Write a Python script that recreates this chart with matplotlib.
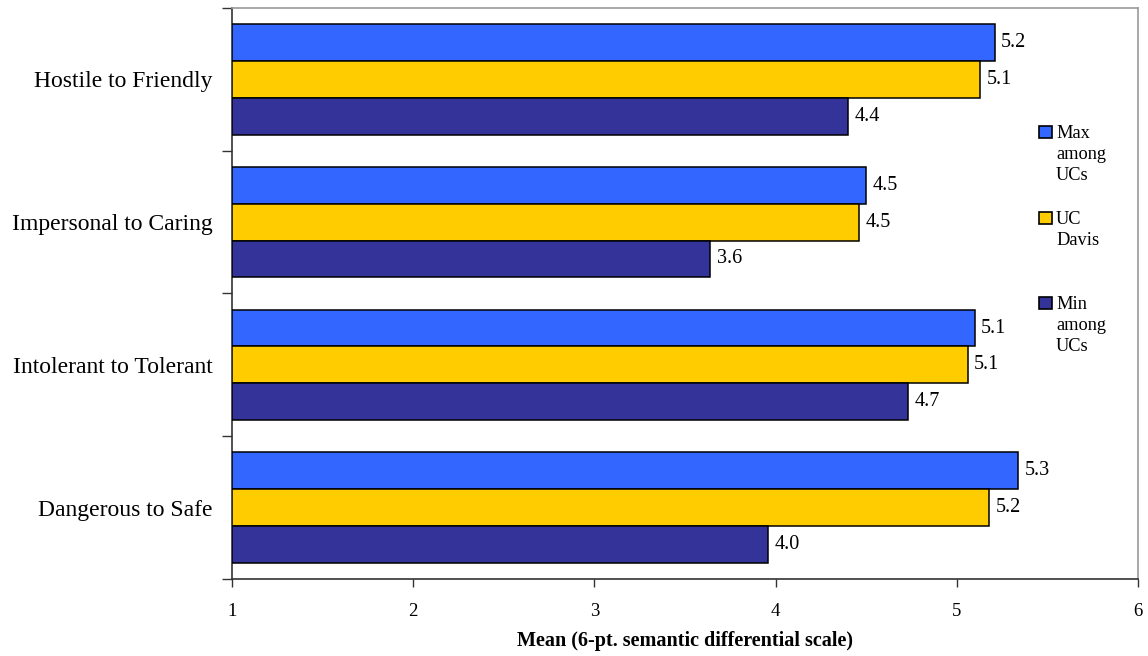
import matplotlib
matplotlib.use("Agg")
import matplotlib.pyplot as plt
from matplotlib.patches import Rectangle
import numpy as np

# Semantic differential items (top to bottom)
categories = ["Hostile to Friendly", "Impersonal to Caring",
              "Intolerant to Tolerant", "Dangerous to Safe"]
series_names = ["Max\namong\nUCs", "UC\nDavis", "Min\namong\nUCs"]
max_among_ucs = [5.21, 4.50, 5.10, 5.34]
uc_davis = [5.13, 4.46, 5.06, 5.18]
min_among_ucs = [4.40, 3.64, 4.73, 3.96]
series_values = [max_among_ucs, uc_davis, min_among_ucs]
series_colors = ["#3366FF", "#FFCC00", "#333399"]
x_ticks = [1, 2, 3, 4, 5, 6]
x_label = "Mean (6-pt. semantic differential scale)"

W, H = 1148, 656
plt.rcParams["font.family"] = ["Liberation Serif", "DejaVu Serif"]

fig = plt.figure(figsize=(W / 100, H / 100), dpi=100)
ax = fig.add_axes([232 / W, 1 - 579 / H, (1138 - 232) / W, (579 - 8) / H])


def fig_xy(x, y):
    """Pixel position (from top-left) to figure fraction."""
    return x / W, 1 - y / H


bar_h = 0.258
y = np.arange(len(categories))
offsets = [-bar_h, 0.0, bar_h]
for vals, color, off in zip(series_values, series_colors, offsets):
    # bars start at the axis origin of 1
    widths = [v - 1 for v in vals]
    bars = ax.barh(y + off, widths, left=1, height=bar_h, color=color,
                   edgecolor="black", linewidth=1.1, zorder=3)
    ax.bar_label(bars, labels=[f"{v:.1f}" for v in vals], padding=4.5,
                 fontsize=14.5, color="black")

ax.set_xlim(1, 6)
ax.set_ylim(len(categories) - 0.5, -0.5)

ax.set_xticks(x_ticks)
ax.set_xticklabels([str(t) for t in x_ticks], fontsize=13.5)
ax.tick_params(axis="x", direction="out", length=6, width=1, pad=11,
               color="#333333")

# boundary ticks on the y axis, category names centred between them
ax.set_yticks(np.arange(-0.5, len(categories) + 0.5, 1.0))
ax.set_yticklabels([])
ax.set_yticks(y, labels=categories, minor=True)
ax.tick_params(axis="y", which="major", direction="out", length=7, width=1,
               color="#333333")
ax.tick_params(axis="y", which="minor", length=0, pad=14, labelsize=17)

for side in ("left", "bottom"):
    ax.spines[side].set_color("#333333")
    ax.spines[side].set_linewidth(1.2)
for side in ("top", "right"):
    ax.spines[side].set_color("#999999")
    ax.spines[side].set_linewidth(1.2)

ax.set_xlabel(x_label, fontsize=14.5, fontweight="bold", labelpad=8)

# legend: square key aligned with the first line of each label
entry_top = [138, 223.5, 309]
line_gap = 21
for name, color, base in zip(series_names, series_colors, entry_top):
    sx, sy = fig_xy(1038.5, base)
    fig.patches.append(Rectangle((sx, sy), 13 / W, 12 / H, facecolor=color,
                                 edgecolor="black", linewidth=1.2,
                                 transform=fig.transFigure, figure=fig))
    for i, line in enumerate(name.split("\n")):
        tx, ty = fig_xy(1056, base + i * line_gap)
        fig.text(tx, ty, line, fontsize=13.2, va="baseline", ha="left")

fig.savefig("out.png", dpi=100)
